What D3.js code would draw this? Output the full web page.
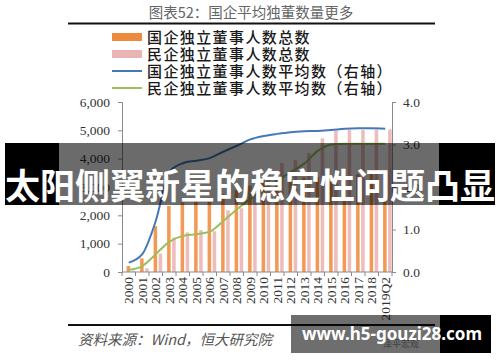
<!DOCTYPE html>
<html lang="zh">
<head>
<meta charset="UTF-8">
<title>国企平均独董数量更多</title>
<style>
  * { padding: 0; margin: 0; }
  html, body { width: 500px; height: 362px; overflow: hidden; background: #fff; }
  svg { display: block; }
</style>
</head>
<body>
<script src="https://cdn.jsdelivr.net/npm/d3@7/dist/d3.min.js"></script>
<script>
// 数据
const years = ['2000', '2001', '2002', '2003', '2004', '2005', '2006', '2007', '2008', '2009',
  '2010', '2011', '2012', '2013', '2014', '2015', '2016', '2017', '2018', '2019Q2']
const soeTotal = [210, 480, 1620, 2330, 2450, 2500, 2550, 2750, 2900, 3050,
  3200, 3280, 3320, 3330, 3350, 3400, 3430, 3450, 3460, 3440]
const pvtTotal = [40, 130, 650, 1220, 1400, 1480, 1440, 2180, 2250, 2750,
  3500, 3850, 3950, 4200, 4720, 4980, 5010, 5010, 5020, 5030]
const soeAvg = [0.22, 0.42, 1.2, 2.35, 2.56, 2.62, 2.68, 2.83, 2.97, 3.12,
  3.2, 3.25, 3.29, 3.31, 3.32, 3.34, 3.37, 3.38, 3.38, 3.37]
const pvtAvg = [0.05, 0.14, 0.42, 0.71, 0.85, 0.89, 0.95, 1.2, 1.47, 1.72,
  1.95, 2.15, 2.35, 2.55, 2.85, 3.0, 3.02, 3.02, 3.02, 3.02]
const leftTicks = [0, 1000, 2000, 3000, 4000, 5000, 6000]
const rightTicks = [0, 1, 2, 3, 4]
const legendNames = ['国企独立董事人数总数', '民企独立董事人数总数',
  '国企独立董事人数平均数（右轴）', '民企独立董事人数平均数（右轴）']

const colors = { soe: '#F29A55', pvt: '#EDBDBD', soeLine: '#4678B8', pvtLine: '#9DBE5C' }
const serif = '"Liberation Serif", "DejaVu Serif", serif'
const cjk = '"Noto Sans CJK SC", sans-serif'

const svg = d3.select('body').append('svg').attr('width', 500).attr('height', 362)

// 标题和分隔线
svg.append('text').text('图表52：国企平均独董数量更多')
  .attr('x', 251).attr('y', 18).attr('text-anchor', 'middle')
  .style('font-family', cjk).style('font-size', '14.5px').attr('fill', '#666')
svg.append('line').attr('x1', 68).attr('x2', 435).attr('y1', 23.5).attr('y2', 23.5)
  .attr('stroke', '#111').attr('stroke-width', 2)

// 图例
const legend = svg.append('g').attr('class', 'legend')
legendNames.forEach((name, i) => {
  const cy = 37 + i * 17
  if (i < 2) {
    legend.append('rect').attr('x', 112).attr('y', cy - 4).attr('width', 30).attr('height', 8)
      .attr('fill', i == 0 ? '#EE8A3E' : '#E8B4B6')
  } else {
    legend.append('line').attr('x1', 112).attr('x2', 142).attr('y1', cy).attr('y2', cy)
      .attr('stroke', i == 2 ? colors.soeLine : colors.pvtLine).attr('stroke-width', 2)
  }
  legend.append('text').text(name).attr('x', 147).attr('y', cy + 5.5)
    .style('font-family', cjk).style('font-size', '15px').style('font-weight', 500)
    .style('letter-spacing', '1.4px').attr('fill', '#1a1a1a')
})

// 比例尺
const x = d3.scaleBand().domain(years).range([122, 392])
const x1 = d3.scaleBand().domain(['soe', 'pvt']).range([4.6, 13.2]).paddingInner(0.3)
const yL = d3.scaleLinear().domain([0, 6000]).range([272, 102])
const yR = d3.scaleLinear().domain([0, 4]).range([272, 102])

// 柱子
const bars = svg.append('g').attr('class', 'bars')
bars.selectAll('rect.soe').data(years).join('rect').attr('class', 'soe')
  .attr('x', d => x(d) + x1('soe')).attr('width', x1.bandwidth())
  .attr('y', (d, i) => yL(soeTotal[i])).attr('height', (d, i) => yL(0) - yL(soeTotal[i]))
  .attr('fill', colors.soe)
bars.selectAll('rect.pvt').data(years).join('rect').attr('class', 'pvt')
  .attr('x', d => x(d) + x1('pvt')).attr('width', x1.bandwidth())
  .attr('y', (d, i) => yL(pvtTotal[i])).attr('height', (d, i) => yL(0) - yL(pvtTotal[i]))
  .attr('fill', colors.pvt)

// 坐标轴
function styleAxis (g) {
  g.select('.domain').attr('stroke', '#8a8a8a')
  g.selectAll('.tick line').attr('stroke', '#8a8a8a')
  g.selectAll('.tick text').attr('fill', '#333').style('font-family', serif).style('font-size', '13.5px')
}
svg.append('g').attr('transform', 'translate(122,0)')
  .call(d3.axisLeft(yL).tickValues(leftTicks).tickFormat(d3.format(',')).tickSize(4).tickSizeOuter(4).tickPadding(8))
  .call(styleAxis)
svg.append('g').attr('transform', 'translate(392,0)')
  .call(d3.axisRight(yR).tickValues(rightTicks).tickFormat(d3.format('.1f')).tickSize(4).tickSizeOuter(4).tickPadding(7))
  .call(styleAxis)

// x轴：刻度在柱组之间，标签竖排
const xAxis = svg.append('g').attr('class', 'x-axis')
xAxis.append('line').attr('x1', 122).attr('x2', 392).attr('y1', 272).attr('y2', 272).attr('stroke', '#8a8a8a')
xAxis.selectAll('line.tk').data(years.concat(['end'])).join('line').attr('class', 'tk')
  .attr('x1', d => d == 'end' ? 392 : x(d)).attr('x2', d => d == 'end' ? 392 : x(d))
  .attr('y1', 272).attr('y2', 276).attr('stroke', '#8a8a8a')
xAxis.selectAll('text').data(years).join('text').text(d => d)
  .attr('transform', d => `translate(${x(d) + x.bandwidth() / 2}, 277) rotate(-90)`)
  .attr('text-anchor', 'end').attr('dy', '0.35em')
  .style('font-family', serif).style('font-size', '13.5px').attr('fill', '#333')

// 折线（右轴）
const cx = d => x(d) + x.bandwidth() / 2
const line = vals => d3.line().curve(d3.curveMonotoneX).x(d => cx(d)).y((d, i) => yR(vals[i]))(years)
svg.append('path').attr('d', line(soeAvg)).attr('fill', 'none')
  .attr('stroke', colors.soeLine).attr('stroke-width', 2)
svg.append('path').attr('d', line(pvtAvg)).attr('fill', 'none')
  .attr('stroke', colors.pvtLine).attr('stroke-width', 2)

// 底部分隔线和资料来源
svg.append('line').attr('x1', 68).attr('x2', 435).attr('y1', 325).attr('y2', 325)
  .attr('stroke', '#111').attr('stroke-width', 2)
svg.append('text').text('资料来源：Wind，恒大研究院').attr('x', 78).attr('y', 345)
  .style('font-family', cjk).style('font-size', '14.5px').style('font-style', 'italic').attr('fill', '#555')
svg.append('text').text('泽平宏观').attr('x', 383).attr('y', 347)
  .style('font-family', cjk).style('font-size', '9px').attr('fill', '#999')

// 覆盖横幅
const banner = svg.append('g').attr('class', 'banner')
banner.append('rect').attr('x', 5).attr('y', 143).attr('width', 54).attr('height', 62).attr('fill', '#000')
banner.append('rect').attr('x', 439).attr('y', 143).attr('width', 56).attr('height', 62).attr('fill', '#000')
banner.append('rect').attr('x', 59).attr('y', 143).attr('width', 380).attr('height', 62)
  .attr('fill', '#000').attr('fill-opacity', 0.58)
banner.append('text').text('太阳侧翼新星的稳定性问题凸显').attr('x', 250).attr('y', 199)
  .attr('text-anchor', 'middle').style('font-family', cjk).style('font-size', '35px')
  .style('font-weight', 700).attr('fill', '#fff')

// 右下角水印
const mark = svg.append('g').attr('class', 'mark')
mark.append('rect').attr('x', 291).attr('y', 315).attr('width', 149).attr('height', 38)
  .attr('fill', '#000').attr('fill-opacity', 0.57)
mark.append('rect').attr('x', 440).attr('y', 315).attr('width', 51).attr('height', 38).attr('fill', '#000')
mark.append('text').text('www.h5-gouzi28.com').attr('x', 302).attr('y', 340)
  .style('font-family', '"Noto Sans", sans-serif').style('font-size', '17px')
  .style('font-weight', 700).attr('fill', '#fff')
</script>
</body>
</html>
